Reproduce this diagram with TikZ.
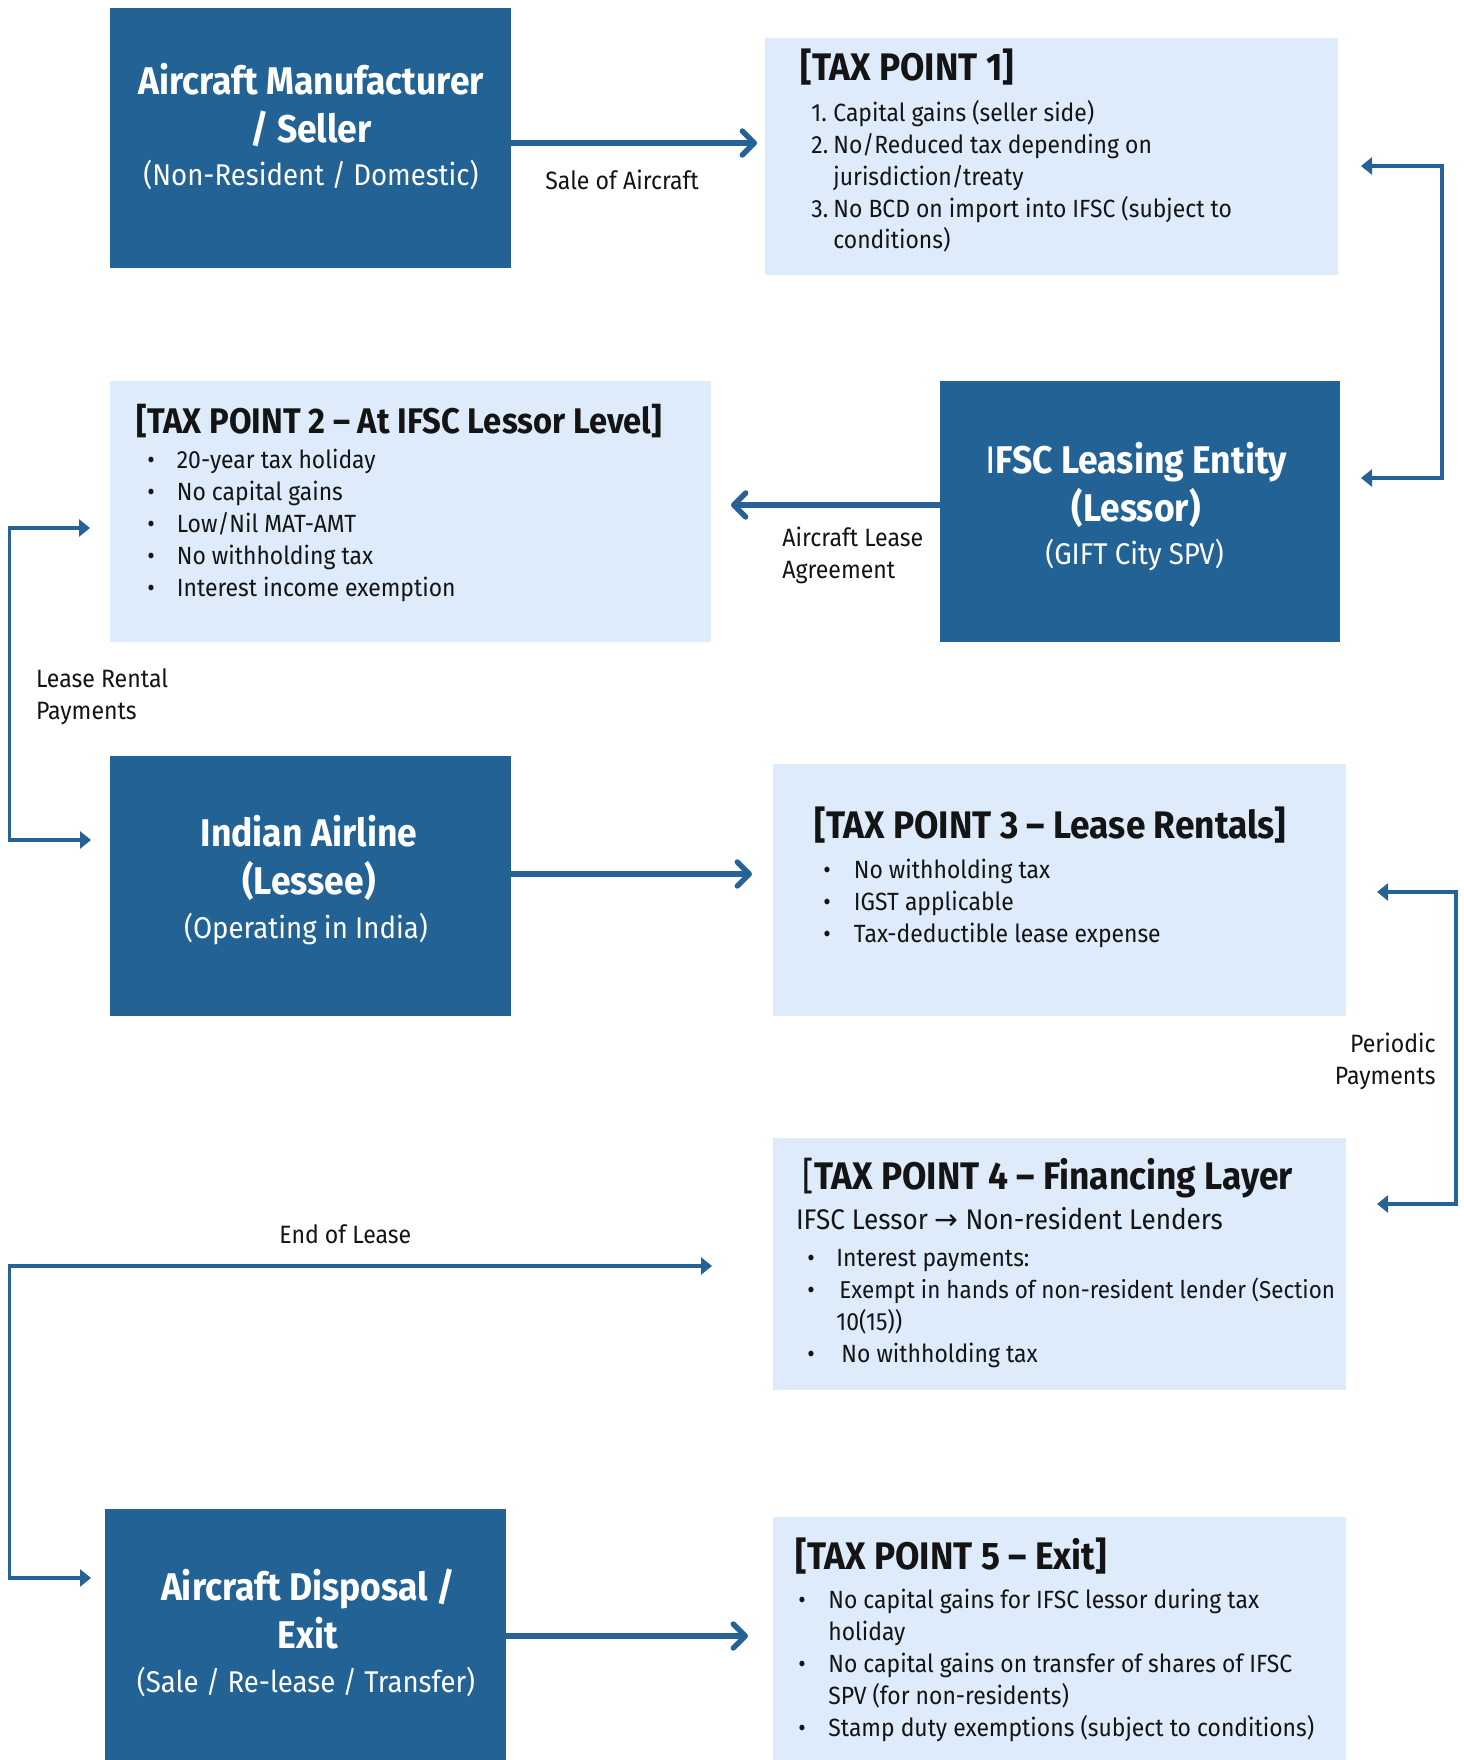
\documentclass[tikz,border=0pt]{standalone}
\usepackage{fontspec}
\setmainfont{Fira Sans}[FakeStretch=0.92]
\newfontfamily\symfont{DejaVu Sans}
\usetikzlibrary{arrows.meta,fit}
\definecolor{dkblue}{RGB}{35,98,148}
\definecolor{ltblue}{RGB}{222,235,251}
\definecolor{arrblue}{RGB}{38,98,150}
\definecolor{inktxt}{RGB}{20,20,20}
\newcommand{\bul}[1]{\makebox[#1][l]{•}}
\newcommand{\bodyf}{\fontsize{12.45}{15.9}\selectfont}
\newcommand{\tptitle}{\fontsize{19.2}{22}\selectfont\bfseries}
\newcommand{\tptitlesm}{\fontsize{17.8}{21}\selectfont\bfseries}
\newcommand{\dtitle}{\fontsize{19.3}{24}\selectfont\bfseries}
\newcommand{\dsub}{\fontsize{15}{20}\selectfont}
\newcommand{\labf}{\fontsize{12.55}{15.7}\selectfont}
\tikzset{
  darkbox/.style={fill=dkblue, draw=none, inner sep=0pt},
  lightbox/.style={fill=ltblue, draw=none, inner sep=0pt},
  btxt/.style={inner sep=0pt, align=left, anchor=base west, text=inktxt},
  wtitle/.style={inner sep=0pt, align=center, anchor=base, text=white, font=\dtitle},
  wsub/.style={inner sep=0pt, align=center, anchor=base, text=white, font=\dsub},
  mainarrow/.style={draw=arrblue, line width=2.7pt, -{Straight Barb[length=6pt,width=12pt,round]}},
  elbow/.style={draw=arrblue, line width=1.8pt, {Triangle[length=5.5pt,width=8.5pt]}-{Triangle[length=5.5pt,width=8.5pt]}}
}
\begin{document}
\begin{tikzpicture}[x=0.5pt, y=-0.5pt]
\path[use as bounding box, fill=white] (0,0) rectangle (1463,1760);
% boxes
\node[darkbox, fit={(110,8) (511,268)}] (a) {};
\node[lightbox, fit={(765,38) (1338,275)}] (tp1) {};
\node[lightbox, fit={(110,381) (711,642)}] (tp2) {};
\node[darkbox, fit={(940,381) (1340,642)}] (ifsc) {};
\node[darkbox, fit={(110,756) (511,1016)}] (ia) {};
\node[lightbox, fit={(773,764) (1346,1016)}] (tp3) {};
\node[lightbox, fit={(773,1138) (1346,1390)}] (tp4) {};
\node[darkbox, fit={(105,1509) (506,1760)}] (disp) {};
\node[lightbox, fit={(773,1517) (1346,1760)}] (tp5) {};
% dark box texts (anchored at the baseline of the last line)
\node[wtitle] (at) at (311,143) {Aircraft Manufacturer\\/ Seller};
\node[wsub] (as) at (311,186) {(Non-Resident / Domestic)};
\node[wtitle] (ifsct) at (1136,521) {{\mdseries I}FSC Leasing Entity\\(Lessor)};
\node[wsub] (ifscs) at (1134.5,564) {(GIFT City SPV)};
\node[wtitle] (iat) at (309,894) {Indian Airline\\(Lessee)};
\node[wsub] (ias) at (306,938) {(Operating in India)};
\node[wtitle] (dispt) at (308,1648) {Aircraft Disposal /\\Exit};
\node[wsub] (disps) at (306,1692) {(Sale / Re-lease / Transfer)};
% tax point 1
\node[btxt, font=\tptitle] (tp1h) at (800,81) {[TAX POINT 1]};
\node[btxt, font=\bodyf] (tp1b) at (811,249) {\makebox[11pt][l]{1.}Capital gains (seller side)\\
\makebox[11pt][l]{2.}No/Reduced tax depending on\\
\hspace*{11pt}jurisdiction/treaty\\
\makebox[11pt][l]{3.}No BCD on import into IFSC (subject to\\
\hspace*{11pt}conditions)};
% tax point 2
\node[btxt, font=\tptitlesm] (tp2h) at (136,433) {[TAX POINT 2 – At IFSC Lessor Level]};
\node[btxt, font=\bodyf] (tp2b) at (147,596) {\bul{14.75pt}20-year tax holiday\\
\bul{14.75pt}No capital gains\\
\bul{14.75pt}Low/Nil MAT-AMT\\
\bul{14.75pt}No withholding tax\\
\bul{14.75pt}Interest income exemption};
% tax point 3
\node[btxt, font=\tptitle] (tp3h) at (814,838) {[TAX POINT 3 – Lease Rentals]};
\node[btxt, font=\bodyf] (tp3b) at (823,942) {\bul{15.25pt}No withholding tax\\
\bul{15.25pt}IGST applicable\\
\bul{15.25pt}Tax-deductible lease expense};
% tax point 4
\node[btxt, font=\tptitle] (tp4h) at (802.5,1189) {{\mdseries[}TAX POINT 4 – Financing Layer};
\node[btxt, font=\fontsize{14.2}{18}\selectfont] (tp4s) at (795.6,1229) {IFSC Lessor {\symfont →} Non-resident Lenders};
\node[btxt, font=\bodyf] (tp4b) at (807,1362) {\bul{14.5pt}Interest payments:\\
\bul{14.5pt}\hspace{1.5pt}{\fontsize{12.2}{15.9}\selectfont Exempt in hands of non-resident lender (Section}\\
\hspace*{14.5pt}10(15))\\
\bul{14.5pt}\hspace{2.5pt}No withholding tax};
% tax point 5
\node[btxt, font=\tptitle] (tp5h) at (795,1569) {[TAX POINT 5 – Exit]};
\node[btxt, font=\bodyf] (tp5b) at (798,1736) {\bul{15pt}No capital gains for IFSC lessor during tax\\
\hspace*{15pt}holiday\\
\bul{15pt}No capital gains on transfer of shares of IFSC\\
\hspace*{15pt}SPV (for non-residents)\\
\bul{15pt}Stamp duty exemptions (subject to conditions)};
% connector labels
\node[btxt, font=\labf] (l1) at (545,190) {Sale of Aircraft};
\node[btxt, font=\labf] (l2) at (782,578) {Aircraft Lease\\Agreement};
\node[btxt, font=\labf] (l3) at (35.6,719) {Lease Rental\\Payments};
\node[inner sep=0pt, align=right, anchor=base east, text=inktxt, font=\labf] (l4) at (1436,1084) {Periodic\\Payments};
\node[btxt, font=\labf] (l5) at (279,1243) {End of Lease};
% arrow end coordinates
\coordinate (s1) at (757,143);
\coordinate (s2) at (731,505);
\coordinate (s3) at (752,874);
\coordinate (s5) at (748,1636);
\coordinate (e1a) at (1361,166);
\coordinate (e1b) at (1361,478);
\coordinate (e2a) at (90,528);
\coordinate (e2b) at (91,840);
\coordinate (e3a) at (1377,892);
\coordinate (e3b) at (1377,1204);
\coordinate (e4a) at (712,1266);
\coordinate (e4b) at (91,1578);
% straight arrows
\draw[mainarrow] (a.east |- s1) -- (s1);
\draw[mainarrow] (ifsc.west |- s2) -- (s2);
\draw[mainarrow] (ia.east |- s3) -- (s3);
\draw[mainarrow] (disp.east |- s5) -- (s5);
% elbow connectors
\draw[elbow] (e1a) -- ++(81,0) |- (e1b);
\draw[elbow] (e2a) -- ++(-80.5,0) |- (e2b);
\draw[elbow] (e3a) -- ++(79,0) |- (e3b);
\draw[elbow] (e4a) -- ++(-702.5,0) |- (e4b);
\end{tikzpicture}
\end{document}
